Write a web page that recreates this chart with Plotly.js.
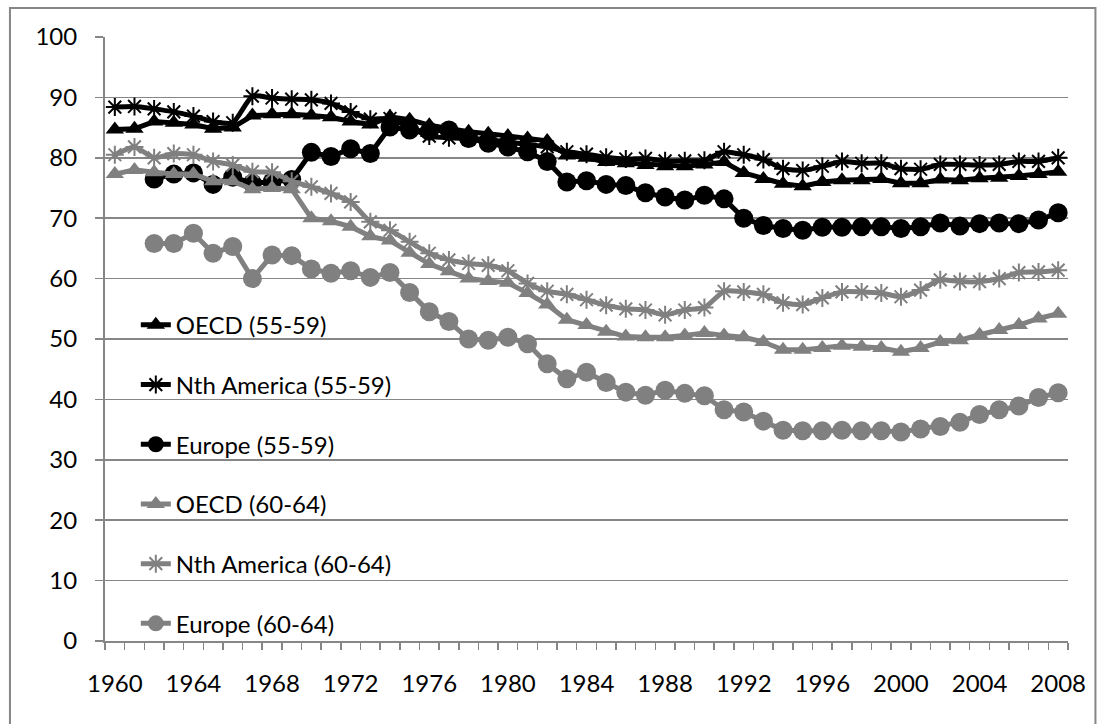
<!DOCTYPE html>
<html>
<head>
<meta charset="utf-8">
<script src="https://cdn.plot.ly/plotly-3.0.1.min.js"></script>
<style>html,body{margin:0;padding:0;background:#fff;}#chart{width:1105px;height:724px;}</style>
</head>
<body>
<div id="chart"></div>
<script>
var years = [];
for (var yr = 1960; yr <= 2008; yr++) years.push(yr);

var seriesNames = ["OECD (55-59)", "Nth America (55-59)", "Europe (55-59)", "OECD (60-64)", "Nth America (60-64)", "Europe (60-64)"];

var oecd5559 = [84.7,84.8,86.0,85.8,85.5,84.8,85.0,87.0,87.2,87.2,
  87.0,86.7,86.0,85.5,86.8,86.3,85.4,84.8,84.3,84.0,
  83.6,83.2,82.8,80.4,80.0,79.3,79.1,78.8,78.6,78.6,
  78.9,79.3,77.5,76.5,75.7,75.3,76.0,76.3,76.3,76.5,
  75.8,75.8,76.4,76.3,76.6,76.7,77.0,77.3,77.7];

var nam5559 = [88.4,88.5,88.1,87.6,86.9,86.0,85.8,90.2,89.9,89.7,
  89.6,89.0,87.6,86.4,86.5,85.0,83.6,83.3,83.2,83.0,
  82.6,82.2,81.8,81.0,80.6,80.1,79.8,79.9,79.5,79.5,
  79.6,81.0,80.5,79.7,78.2,77.9,78.6,79.4,79.1,79.1,
  78.2,78.1,78.9,78.9,78.8,78.9,79.4,79.4,80.0];

var eur5559 = [null,null,76.5,77.3,77.5,75.6,76.8,75.8,76.0,76.4,
  80.9,80.2,81.5,80.7,85.1,84.6,84.4,84.6,83.2,82.4,
  81.8,81.0,79.4,76.0,76.2,75.6,75.4,74.2,73.5,73.0,
  73.8,73.2,70.0,68.8,68.3,68.0,68.5,68.5,68.6,68.6,
  68.3,68.6,69.2,68.7,69.1,69.2,69.1,69.7,70.9];

var oecd6064 = [77.3,78.0,77.6,77.3,77.3,76.1,76.1,74.8,75.0,74.8,
  70.0,69.5,68.6,67.0,66.3,64.3,62.4,61.2,60.0,59.6,
  59.3,57.6,55.7,53.2,52.3,51.2,50.4,50.3,50.3,50.6,
  51.0,50.6,50.3,49.5,48.2,48.2,48.5,48.9,48.7,48.5,
  47.9,48.5,49.5,49.8,50.7,51.5,52.3,53.4,54.2];

var nam6064 = [80.5,81.8,80.0,80.7,80.5,79.4,78.8,77.7,77.6,76.1,
  75.2,74.1,72.7,69.4,68.0,66.1,64.2,63.1,62.5,62.2,
  61.3,59.2,57.9,57.4,56.5,55.6,55.0,54.8,54.0,54.8,
  55.2,57.9,57.8,57.4,56.0,55.7,56.8,57.8,57.8,57.6,
  57.0,58.1,59.8,59.5,59.5,60.0,61.0,61.1,61.4];

var eur6064 = [null,null,65.8,65.8,67.5,64.2,65.3,60.0,63.9,63.8,
  61.6,60.9,61.3,60.2,61.0,57.7,54.5,52.9,50.0,49.8,
  50.3,49.2,45.9,43.4,44.5,42.8,41.2,40.7,41.5,41.0,
  40.6,38.3,37.9,36.4,34.9,34.8,34.8,34.9,34.8,34.8,
  34.6,35.1,35.5,36.2,37.5,38.3,38.9,40.3,41.1];

var yTicks = [0,10,20,30,40,50,60,70,80,90,100];
var xTickLabels = [1960,1964,1968,1972,1976,1980,1984,1988,1992,1996,2000,2004,2008];

var BLACK = "#000000", GRAY = "#808080";
var FONT = "Lato, 'Open Sans', sans-serif";
var FS = 24;

function tr(name, y, color, symbol, size, shape, group) {
  var isStar = symbol.indexOf("asterisk") === 0;
  return {
    type: "scatter", mode: "lines+markers", name: name, x: years, y: y,
    legendgroup: group,
    connectgaps: false,
    line: {color: color, width: 5, shape: shape, smoothing: 0.6},
    marker: isStar ? {symbol: symbol, size: size, color: color, line: {color: color, width: 2}}
                   : {symbol: symbol, size: size, color: color, line: {width: 0}}
  };
}

var data = [
  tr(seriesNames[0], oecd5559, BLACK, "triangle-up", 16, "linear", "g1"),
  tr(seriesNames[1], nam5559, BLACK, "asterisk-open", 15, "spline", "g2"),
  tr(seriesNames[2], eur5559, BLACK, "circle", 19, "linear", "g3"),
  tr(seriesNames[3], oecd6064, GRAY, "triangle-up", 16, "linear", "g4"),
  tr(seriesNames[4], nam6064, GRAY, "asterisk-open", 15, "spline", "g5"),
  tr(seriesNames[5], eur6064, GRAY, "circle", 19, "linear", "g6")
];

var boundaries = years.map(function(v){ return v - 0.5; }).concat([years[years.length-1] + 0.5]);

var layout = {
  width: 1105, height: 724,
  margin: {l: 105, r: 37, t: 37, b: 83},
  paper_bgcolor: "#ffffff", plot_bgcolor: "#ffffff",
  font: {family: FONT, size: FS, color: "#000000"},
  showlegend: true,
  legend: {
    x: 0.032, y: 0.560, xanchor: "left", yanchor: "top",
    bgcolor: "rgba(0,0,0,0)", borderwidth: 0,
    traceorder: "grouped", tracegroupgap: 25.5,
    font: {family: FONT, size: FS, color: "#000000"}
  },
  xaxis: {
    range: [1959.5, 2008.5], tickmode: "array", tickvals: xTickLabels,
    ticktext: xTickLabels.map(String), ticks: "", showgrid: false, zeroline: false,
    showline: true, linecolor: "#868686", linewidth: 2,
    ticklabelstandoff: 20,
    minor: {tickmode: "array", tickvals: boundaries, ticks: "outside", ticklen: 7, tickcolor: "#868686", tickwidth: 1.5, showgrid: false},
    tickfont: {family: FONT, size: FS, color: "#000000"}
  },
  yaxis: {
    range: [0, 100], tickmode: "array", tickvals: yTicks,
    ticks: "outside", ticklen: 8, tickcolor: "#868686", tickwidth: 1.5,
    showgrid: true, gridcolor: "#868686", gridwidth: 1.5, zeroline: false,
    showline: true, linecolor: "#868686", linewidth: 2,
    ticklabelstandoff: 13,
    tickfont: {family: FONT, size: FS, color: "#000000"}
  },
  shapes: [{
    type: "rect", xref: "paper", yref: "paper",
    x0: -0.0987, x1: 1.0285, y0: -0.15, y1: 1.0480,
    line: {color: "#868686", width: 2}, fillcolor: "rgba(0,0,0,0)", layer: "below"
  }]
};

Plotly.newPlot("chart", data, layout, {displayModeBar: false, staticPlot: true});
</script>
</body>
</html>
